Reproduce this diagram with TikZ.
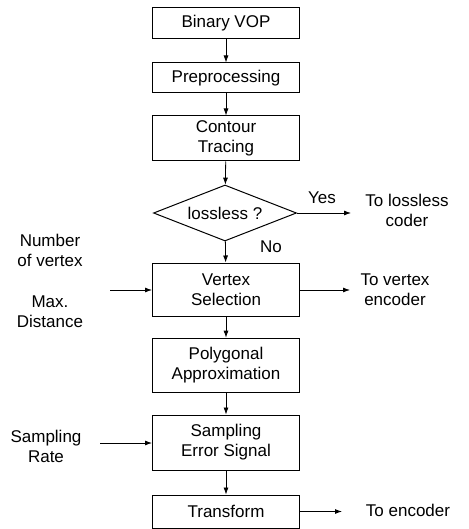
\documentclass[tikz,border=0pt]{standalone}
\usepackage{fontspec}
\setmainfont{Liberation Sans}
\usetikzlibrary{shapes.geometric,arrows.meta}
\begin{document}
\begin{tikzpicture}[x=1pt,y=-1pt,
	every node/.style={font=\fontsize{17}{20}\selectfont},
	block/.style={draw, line width=1pt, minimum width=147pt, align=center, inner sep=2pt},
	decide/.style={draw, diamond, line width=1pt, aspect=2.5, minimum width=143pt, minimum height=56pt, inner sep=0pt},
	lbl/.style={align=center, inner sep=1pt},
	flow/.style={-{Latex[length=7pt,width=5pt]}, line width=0.8pt}]
		\useasboundingbox (0,0) rectangle (468,529);
		% main chain
		\node[block, minimum height=31pt] (bvop) at (226,23.5) {Binary VOP};
		\node[block, minimum height=30pt] (prep) at (226,78) {Preprocessing};
		\node[block, minimum height=45pt] (cont) at (226,138.5) {Contour\\Tracing};
		\node[decide] (dec) at (225,213) {lossless ?};
		\node[block, minimum height=53pt] (vsel) at (226,289.5) {Vertex\\Selection};
		\node[block, minimum height=54pt, line width=0.6pt] (poly) at (226,365) {Polygonal\\Approximation};
		\node[block, minimum height=55pt] (samp) at (226,442.5) {Sampling\\Error Signal};
		\node[block, minimum height=33pt] (tran) at (226,511.5) {Transform};
		% labels
		\node[lbl] (yes) at (322,198) {Yes};
		\node[lbl] (no) at (271,247) {No};
		\node[lbl] (tolc) at (407,210) {To lossless\\coder};
		\node[lbl] (tove) at (395,289.5) {To vertex\\encoder};
		\node[lbl] (toen) at (408,510) {To encoder};
		\node[lbl] (numv) at (50,250) {Number\\of vertex};
		\node[lbl] (maxd) at (50,312) {Max.\\Distance};
		\node[lbl] (srate) at (46,446) {Sampling\\Rate};
		% free ends
		\coordinate (lcend) at (351,213);
		\coordinate (veend) at (350,290);
		\coordinate (enend) at (342,511.5);
		\coordinate (vin) at (110,290);
		\coordinate (sin) at (100,443);
		% connectors
		\draw[flow] (bvop) -- (prep);
		\draw[flow] (prep) -- (cont);
		\draw[flow] (cont) -- (dec);
		\draw[flow] (dec) -- (vsel);
		\draw[flow] (vsel) -- (poly);
		\draw[flow] (poly) -- (samp);
		\draw[flow] (samp) -- (tran);
		\draw[flow] (dec.east) -- (lcend);
		\draw[flow] (vsel.east |- veend) -- (veend);
		\draw[flow] (tran.east |- enend) -- (enend);
		\draw[flow] (vin) -- (vsel.west |- vin);
		\draw[flow] (sin) -- (samp.west |- sin);
	\end{tikzpicture}
\end{document}
